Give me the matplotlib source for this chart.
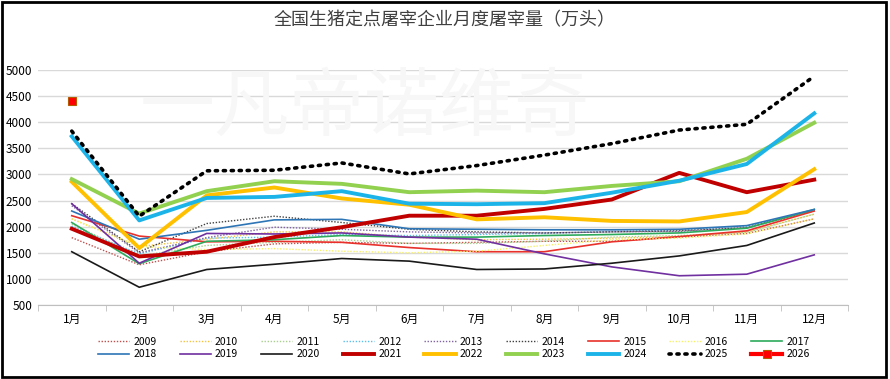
import numpy as np
import matplotlib.pyplot as plt
from matplotlib.patches import Rectangle

plt.rcParams['font.family'] = ['Noto Sans CJK SC', 'DejaVu Sans']

months = ['1月', '2月', '3月', '4月', '5月', '6月', '7月', '8月', '9月', '10月', '11月', '12月']

y2009 = [1790, 1270, 1520, 1670, 1700, 1680, 1700, 1720, 1720, 1800, 1870, 2150]
y2010 = [2150, 1620, 1760, 1900, 1900, 1800, 1750, 1760, 1780, 1810, 1900, 2240]
y2011 = [2050, 1440, 1640, 1700, 1750, 1680, 1680, 1720, 1800, 1830, 1890, 2240]
y2012 = [2010, 1480, 1780, 1800, 1850, 1830, 1850, 1870, 1910, 1940, 2010, 2320]
y2013 = [2400, 1500, 1790, 1990, 1950, 1900, 1880, 1880, 1900, 1910, 1980, 2300]
y2014 = [2440, 1520, 2060, 2200, 2080, 1950, 1900, 1880, 1900, 1920, 1980, 2320]
y2015 = [2210, 1820, 1710, 1720, 1700, 1600, 1520, 1520, 1710, 1810, 1920, 2300]
y2016 = [2150, 1620, 1560, 1580, 1530, 1500, 1530, 1640, 1750, 1780, 1860, 2150]
y2017 = [2080, 1290, 1720, 1750, 1830, 1800, 1800, 1830, 1850, 1880, 1970, 2330]
y2018 = [2300, 1760, 1930, 2130, 2140, 1960, 1950, 1940, 1940, 1950, 2020, 2330]
y2019 = [2440, 1300, 1870, 1860, 1880, 1800, 1760, 1480, 1230, 1060, 1090, 1460]
y2020 = [1520, 840, 1180, 1280, 1390, 1340, 1180, 1190, 1300, 1440, 1640, 2070]
y2021 = [1960, 1430, 1520, 1800, 1990, 2210, 2210, 2340, 2520, 3030, 2660, 2900]
y2022 = [2860, 1590, 2600, 2750, 2540, 2420, 2140, 2180, 2110, 2100, 2280, 3100]
y2023 = [2910, 2250, 2680, 2870, 2820, 2660, 2690, 2660, 2780, 2870, 3300, 3990]
y2024 = [3730, 2120, 2550, 2570, 2680, 2440, 2430, 2450, 2650, 2880, 3200, 4170]
y2025 = [3830, 2200, 3070, 3080, 3220, 3010, 3170, 3370, 3590, 3850, 3960, 4880]
y2026 = [4400]

dot = (0, (1, 1.2))
series = [
    ('2009', y2009, '#c0504d', 1.0, dot),
    ('2010', y2010, '#f5c242', 1.0, dot),
    ('2011', y2011, '#a9d08e', 1.0, dot),
    ('2012', y2012, '#5bc0eb', 1.0, dot),
    ('2013', y2013, '#8064a2', 1.0, dot),
    ('2014', y2014, '#404040', 1.0, dot),
    ('2015', y2015, '#e8312b', 1.2, '-'),
    ('2016', y2016, '#f7f06a', 1.0, dot),
    ('2017', y2017, '#2eaa5c', 1.2, '-'),
    ('2018', y2018, '#2e75b6', 1.2, '-'),
    ('2019', y2019, '#7030a0', 1.2, '-'),
    ('2020', y2020, '#1a1a1a', 1.2, '-'),
    ('2021', y2021, '#c00000', 2.8, '-'),
    ('2022', y2022, '#ffc000', 2.8, '-'),
    ('2023', y2023, '#92d050', 2.8, '-'),
    ('2024', y2024, '#1cb4e8', 2.8, '-'),
]

fig = plt.figure(figsize=(8.9, 3.79), dpi=100)
ax = fig.add_axes([38 / 890, 1 - 305 / 379, 810 / 890, 235 / 379])

x = np.arange(len(months))
for name, vals, color, lw, ls in series:
    ax.plot(x[:len(vals)], vals, color=color, lw=lw, linestyle=ls, label=name)
ax.plot(x, y2025, color='black', lw=2.6, linestyle=(0, (0.6, 1.6)),
        dash_capstyle='round', label='2025')
ax.plot(x[:len(y2026)], y2026, color='red', lw=3, marker='s', markersize=6,
        markeredgecolor='#b35c00', markeredgewidth=0.8, label='2026')

ax.set_xlim(-0.5, 11.5)
ax.set_ylim(500, 5000)
ax.set_yticks(np.arange(500, 5001, 500))
ax.set_xticks(x)
ax.set_xticklabels(months)
ax.set_xticks(np.arange(-0.5, 12, 1), minor=True)
ax.tick_params(axis='x', which='major', length=0, labelsize=8.5, pad=6)
ax.tick_params(axis='x', which='minor', length=4, color='#bfbfbf')
ax.tick_params(axis='y', length=0, labelsize=8.5, pad=4)
ax.grid(axis='y', color='#d9d9d9', lw=1)
ax.set_axisbelow(True)
for s in ['top', 'right', 'left']:
    ax.spines[s].set_visible(False)
ax.spines['bottom'].set_color('#bfbfbf')

fig.text(0.5, 1 - 20 / 379, '全国生猪定点屠宰企业月度屠宰量（万头）', ha='center', va='center',
         fontsize=13, color='#404040')
fig.text(0.41, 1 - 108 / 379, '一凡帝诺维奇', ha='center', va='center', fontsize=54,
         color='#f7f7f7', zorder=0)

# legend fills row by row in the reference
handles, labels = ax.get_legend_handles_labels()
ncol = 9
order = []
for c in range(ncol):
    for r in range(2):
        i = r * ncol + c
        if i < len(handles):
            order.append(i)
fig.legend([handles[i] for i in order], [labels[i] for i in order],
           loc='center', bbox_to_anchor=(0.51, 1 - 348 / 379), ncol=ncol, frameon=False,
           fontsize=7.5, handlelength=3.0, columnspacing=2.2, handletextpad=0.4,
           labelspacing=0.25)

fig.patches.append(Rectangle((0.002, 0.004), 0.994, 0.992, transform=fig.transFigure,
                             fill=False, edgecolor='black', lw=2))

fig.savefig('out.png', dpi=100)
